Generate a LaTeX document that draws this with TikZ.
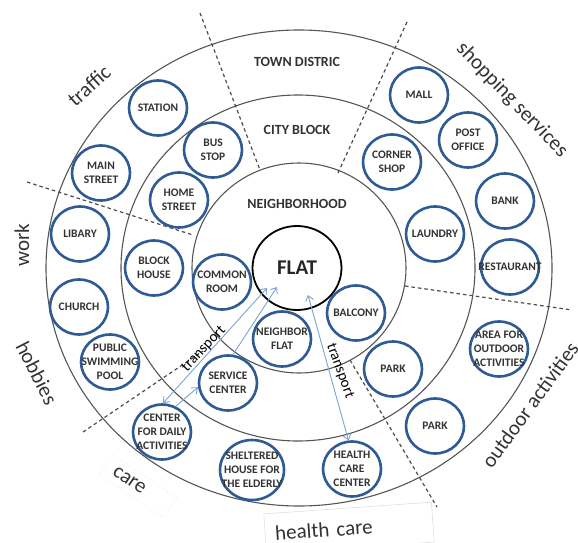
\documentclass[tikz,border=0pt]{standalone}
\usepackage{fontspec}
\setmainfont{Carlito}
\usetikzlibrary{shapes.geometric,arrows.meta,calc}
\definecolor{nodeblue}{HTML}{2F5B94}
\definecolor{arrowblue}{HTML}{7BA3D6}
\definecolor{ringgray}{HTML}{555555}
\definecolor{txtgray}{HTML}{333333}
\newcommand{\plbl}[1]{\smash{\raisebox{-4pt}{\makebox[0pt]{\begin{tabular}{@{}c@{}}#1\end{tabular}}}}}
\tikzset{
  ring/.style={draw=ringgray, line width=1.1pt},
  divider/.style={draw=ringgray!90!black, line width=1.2pt, dash pattern=on 3.5pt off 3pt},
  place/.style={ellipse, draw=nodeblue, line width=2.6pt, fill=white,
    minimum width=58pt, minimum height=55pt, inner sep=0pt,
    font=\fontsize{11.5}{14}\bfseries\selectfont, text=txtgray},
  bigplace/.style={place, minimum width=64pt, minimum height=60pt},
  ringlbl/.style={font=\fontsize{14}{16}\bfseries\selectfont, text=txtgray, inner sep=0pt},
  outer/.style={font=\fontsize{21}{24}\selectfont, text=txtgray, inner sep=0pt},
  framed/.style={outer, draw=gray!25, line width=0.6pt},
  translbl/.style={font=\fontsize{15}{17}\selectfont, text=black, inner sep=0pt},
  arr/.style={draw=arrowblue, line width=0.9pt, -{Straight Barb[length=5pt,width=8pt]}},
  darr/.style={draw=arrowblue, line width=0.9pt, {Straight Barb[length=5pt,width=8pt]}-{Straight Barb[length=5pt,width=8pt]}}
}
\begin{document}
\begin{tikzpicture}[x=1pt,y=-1pt]
\useasboundingbox (0,0) rectangle (578,543);
% rings
\draw[ring] (299,268) ellipse [x radius=253pt, y radius=238pt];
\draw[ring] (298,268) ellipse [x radius=177pt, y radius=173pt];
\draw[ring] (299,268) ellipse [x radius=107pt, y radius=105pt];
% dividers
\draw[divider] (200,13) -- (260,170);
\draw[divider] (407,22) -- (338,173);
\draw[divider] (27,182) -- (193,235);
\draw[divider] (405,286) -- (572,310);
\draw[divider] (83,432) -- (203,351);
\draw[divider] (350,360) -- (437,507);
% ring labels
\node[ringlbl] (town) at (297,62) {TOWN DISTRIC};
\node[ringlbl] (city) at (297,130) {CITY BLOCK};
\node[ringlbl] (hood) at (297,204) {NEIGHBORHOOD};
% center
\node[ellipse, draw=black, line width=1.8pt, fill=white, minimum width=89pt, minimum height=84pt,
  inner sep=0pt, font=\fontsize{21}{23}\bfseries\selectfont, text=black!85] (flat) at (297,268) {FLAT};
% places
\node[place] (station) at (158,108) {\plbl{STATION}};
\node[place] (busstop) at (213,150) {\plbl{BUS\\STOP}};
\node[place] (mainst) at (101,173) {\plbl{MAIN\\STREET}};
\node[place] (homest) at (179,200) {\plbl{HOME\\STREET}};
\node[place] (mall) at (419,95) {\plbl{MALL}};
\node[place] (post) at (468,140) {\plbl{POST\\OFFICE}};
\node[place] (corner) at (392,162) {\plbl{CORNER\\SHOP}};
\node[place] (bank) at (505,201) {\plbl{BANK}};
\node[place] (laundry) at (435,234) {\plbl{LAUNDRY}};
\node[place] (rest) at (510,267) {\plbl{RESTAURANT}};
\node[place] (area) at (499,349) {\plbl{AREA FOR\\OUTDOOR\\ACTIVITIES}};
\node[place] (balcony) at (356,313) {\plbl{BALCONY}};
\node[place] (park1) at (393,369) {\plbl{PARK}};
\node[place] (park2) at (435,426) {\plbl{PARK}};
\node[place] (health) at (352,469) {\plbl{HEALTH\\CARE\\CENTER}};
\node[bigplace] (shelter) at (252,470) {\plbl{SHELTERED\\HOUSE FOR\\THE ELDERLY}};
\node[place] (daily) at (162,432) {\plbl{CENTER\\FOR DAILY\\ACTIVITIES}};
\node[place] (service) at (228,383) {\plbl{SERVICE\\CENTER}};
\node[place] (neighbor) at (282,339) {\plbl{NEIGHBOR\\FLAT}};
\node[place] (common) at (222,282) {\plbl{COMMON\\ROOM}};
\node[place] (block) at (154,268) {\plbl{BLOCK\\HOUSE}};
\node[place] (libary) at (80,234) {\plbl{LIBARY}};
\node[place] (church) at (79,307) {\plbl{CHURCH}};
\node[place] (pool) at (110,362) {\plbl{PUBLIC\\SWIMMING\\POOL}};
% arrows
\draw[darr] (daily.88) -- ($(flat.center)+(-30,20)$);
\draw[arr] (service.80) -- ($(flat.center)+(-20,19)$);
\draw[arr] (daily.62) -- (service.188);
\draw[darr] ($(flat.center)+(11,27)$) -- (health.97);
% transport labels
\node[translbl, rotate=47] (tleft) at (204,349) {transport};
\node[translbl, rotate=-70] (tright) at (340,371) {transport};
% outer labels
\node[outer, rotate=42] (traffic) at (89,86) {traffic};
\node[outer, rotate=-46] (shop) at (512,100) {shopping services};
\node[outer, rotate=90] (work) at (22,245) {work};
\node[outer, rotate=-63] (hobbies) at (37,373) {hobbies};
\node[outer, rotate=54] (outdoor) at (530,405) {outdoor activities};
\node[framed, rotate=-34, dotted, text width=57pt, inner xsep=10pt, inner ysep=2pt, minimum height=24pt, align=left] (care) at (138,486) {care};
\node[framed, rotate=4, text width=148pt, inner xsep=10pt, inner ysep=6pt, minimum height=40pt, align=left] (hcare) at (349,528) {health care};
\end{tikzpicture}
\end{document}
